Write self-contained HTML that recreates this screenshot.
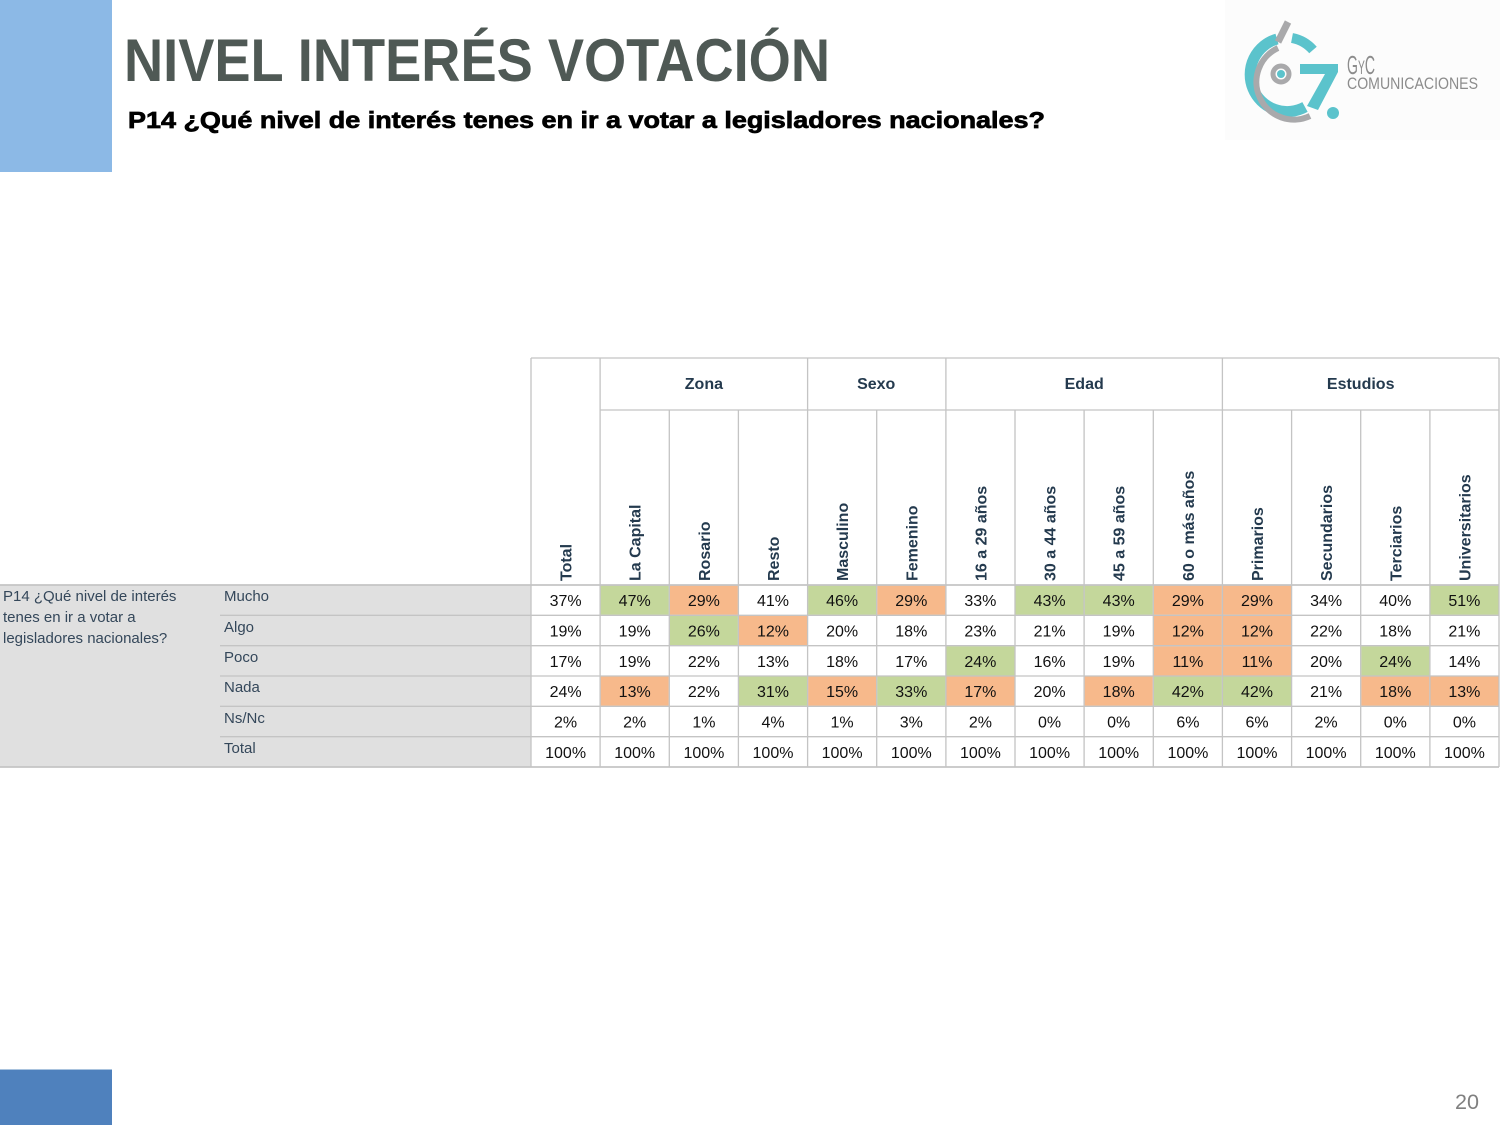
<!DOCTYPE html>
<html><head><meta charset="utf-8"><style>
html,body{margin:0;padding:0;background:#fff;}
svg{display:block;}
.v{font-family:"Liberation Sans",Arial,sans-serif;font-size:16px;fill:#111;text-anchor:middle;}
.h{font-family:"Liberation Sans",Arial,sans-serif;font-size:16px;font-weight:bold;fill:#243a4e;}
.rl{font-family:"Liberation Sans",Arial,sans-serif;font-size:15px;fill:#34475a;}
.G{fill:#c4d79b;}
.O{fill:#f7b98b;}
</style></head><body>
<svg width="1500" height="1125" viewBox="0 0 1500 1125" xmlns="http://www.w3.org/2000/svg">
<!-- decorative blocks -->
<rect x="0" y="0" width="112" height="172" fill="#8cb9e6"/>
<rect x="0" y="1069" width="112" height="1" fill="#a9c3de"/>
<rect x="0" y="1070" width="112" height="55" fill="#4f81bd"/>

<!-- titles -->
<text x="124" y="81" font-family="Liberation Sans, Arial, sans-serif" font-weight="bold" font-size="60" fill="#4f5955" textLength="706" lengthAdjust="spacingAndGlyphs">NIVEL INTERÉS VOTACIÓN</text>
<text x="128" y="128" font-family="Liberation Sans, Arial, sans-serif" font-weight="bold" font-size="23" fill="#000" stroke="#000" stroke-width="0.7" textLength="917" lengthAdjust="spacingAndGlyphs">P14 ¿Qué nivel de interés tenes en ir a votar a legisladores nacionales?</text>

<!-- logo -->
<rect x="1225" y="0" width="275" height="140" fill="#fcfcfc"/>
<path d="M1277,39 A37,37 0 1 0 1305,107" fill="none" stroke="#5bc3cc" stroke-width="11"/>
<path d="M1292,38 A37,37 0 0 1 1313,50" fill="none" stroke="#5bc3cc" stroke-width="10"/>
<path d="M1288,22 L1278,42" fill="none" stroke="#a9a9ab" stroke-width="7"/>
<path d="M1278,48 A28,28 0 1 0 1310,116" fill="none" stroke="#a9a9ab" stroke-width="6"/>
<circle cx="1281" cy="74" r="8" fill="none" stroke="#a9a9ab" stroke-width="5"/>
<circle cx="1281" cy="74" r="4" fill="#5bc3cc"/>
<polygon points="1300,64 1338,64 1338,72 1318,110 1307,106 1325,74 1300,74" fill="#5bc3cc"/>
<circle cx="1333" cy="113" r="6" fill="#5bc3cc"/>
<text x="1347" y="74" font-family="Liberation Sans, Arial, sans-serif" font-size="26" fill="#8c8c8c" textLength="28" lengthAdjust="spacingAndGlyphs">G<tspan font-size="19">Y</tspan>C</text>
<text x="1347" y="89" font-family="Liberation Sans, Arial, sans-serif" font-size="17" fill="#8c8c8c" textLength="131" lengthAdjust="spacingAndGlyphs">COMUNICACIONES</text>

<!-- page number -->
<text x="1455" y="1109" font-family="Liberation Sans, Arial, sans-serif" font-size="21" fill="#808080" textLength="24" lengthAdjust="spacingAndGlyphs">20</text>

<!-- label region -->
<rect x="0" y="585" width="531" height="182" fill="#e0e0e0"/>

<!-- colored cells -->
<g>
<rect class="G" x="600.6" y="585.5" width="68.2" height="29.3"/>
<rect class="O" x="669.8" y="585.5" width="68.1" height="29.3"/>
<rect class="G" x="808.1" y="585.5" width="68.1" height="29.3"/>
<rect class="O" x="877.2" y="585.5" width="68.2" height="29.3"/>
<rect class="G" x="1015.5" y="585.5" width="68.1" height="29.3"/>
<rect class="G" x="1084.6" y="585.5" width="68.2" height="29.3"/>
<rect class="O" x="1153.8" y="585.5" width="68.1" height="29.3"/>
<rect class="O" x="1222.9" y="585.5" width="68.2" height="29.3"/>
<rect class="G" x="1430.4" y="585.5" width="68.1" height="29.3"/>
<rect class="G" x="669.8" y="615.8" width="68.1" height="29.4"/>
<rect class="O" x="738.9" y="615.8" width="68.2" height="29.4"/>
<rect class="O" x="1153.8" y="615.8" width="68.1" height="29.4"/>
<rect class="O" x="1222.9" y="615.8" width="68.2" height="29.4"/>
<rect class="G" x="946.4" y="646.2" width="68.1" height="29.3"/>
<rect class="O" x="1153.8" y="646.2" width="68.1" height="29.3"/>
<rect class="O" x="1222.9" y="646.2" width="68.2" height="29.3"/>
<rect class="G" x="1361.2" y="646.2" width="68.2" height="29.3"/>
<rect class="O" x="600.6" y="676.5" width="68.2" height="29.3"/>
<rect class="G" x="738.9" y="676.5" width="68.2" height="29.3"/>
<rect class="O" x="808.1" y="676.5" width="68.1" height="29.3"/>
<rect class="G" x="877.2" y="676.5" width="68.2" height="29.3"/>
<rect class="O" x="946.4" y="676.5" width="68.1" height="29.3"/>
<rect class="O" x="1084.6" y="676.5" width="68.2" height="29.3"/>
<rect class="G" x="1153.8" y="676.5" width="68.1" height="29.3"/>
<rect class="G" x="1222.9" y="676.5" width="68.2" height="29.3"/>
<rect class="O" x="1361.2" y="676.5" width="68.2" height="29.3"/>
<rect class="O" x="1430.4" y="676.5" width="68.1" height="29.3"/>
</g>

<!-- grid lines -->
<g stroke="#c4c4c4" stroke-width="1.3" fill="none">
<line x1="531" y1="358" x2="1499" y2="358"/>
<line x1="600.1" y1="410" x2="1499" y2="410"/>
<line x1="0" y1="585" x2="1499" y2="585" stroke-width="1.8"/>
<line x1="220" y1="615.3" x2="1499" y2="615.3"/>
<line x1="220" y1="645.7" x2="1499" y2="645.7"/>
<line x1="220" y1="676" x2="1499" y2="676"/>
<line x1="220" y1="706.3" x2="1499" y2="706.3"/>
<line x1="220" y1="736.7" x2="1499" y2="736.7"/>
<line x1="0" y1="767" x2="1499" y2="767" stroke-width="1.8"/>
<line x1="531" y1="358" x2="531" y2="767"/>
<line x1="600.1" y1="358" x2="600.1" y2="767"/>
<line x1="807.6" y1="358" x2="807.6" y2="767"/>
<line x1="945.9" y1="358" x2="945.9" y2="767"/>
<line x1="1222.4" y1="358" x2="1222.4" y2="767"/>
<line x1="1499" y1="358" x2="1499" y2="767"/>
<line x1="669.3" y1="410" x2="669.3" y2="767"/>
<line x1="738.4" y1="410" x2="738.4" y2="767"/>
<line x1="876.7" y1="410" x2="876.7" y2="767"/>
<line x1="1015" y1="410" x2="1015" y2="767"/>
<line x1="1084.1" y1="410" x2="1084.1" y2="767"/>
<line x1="1153.3" y1="410" x2="1153.3" y2="767"/>
<line x1="1291.6" y1="410" x2="1291.6" y2="767"/>
<line x1="1360.7" y1="410" x2="1360.7" y2="767"/>
<line x1="1429.9" y1="410" x2="1429.9" y2="767"/>
</g>

<!-- group headers -->
<text class="h" x="703.9" y="389" text-anchor="middle">Zona</text>
<text class="h" x="876.2" y="389" text-anchor="middle">Sexo</text>
<text class="h" x="1084.2" y="389" text-anchor="middle">Edad</text>
<text class="h" x="1360.7" y="389" text-anchor="middle">Estudios</text>

<!-- rotated column headers -->
<text class="h" transform="translate(571.6,581) rotate(-90)">Total</text>
<text class="h" transform="translate(640.7,581) rotate(-90)">La Capital</text>
<text class="h" transform="translate(709.9,581) rotate(-90)">Rosario</text>
<text class="h" transform="translate(779,581) rotate(-90)">Resto</text>
<text class="h" transform="translate(848.1,581) rotate(-90)">Masculino</text>
<text class="h" transform="translate(917.3,581) rotate(-90)">Femenino</text>
<text class="h" transform="translate(986.4,581) rotate(-90)">16 a 29 años</text>
<text class="h" transform="translate(1055.6,581) rotate(-90)">30 a 44 años</text>
<text class="h" transform="translate(1124.7,581) rotate(-90)">45 a 59 años</text>
<text class="h" transform="translate(1193.9,581) rotate(-90)">60 o más años</text>
<text class="h" transform="translate(1263,581) rotate(-90)">Primarios</text>
<text class="h" transform="translate(1332.1,581) rotate(-90)">Secundarios</text>
<text class="h" transform="translate(1401.3,581) rotate(-90)">Terciarios</text>
<text class="h" transform="translate(1470.4,581) rotate(-90)">Universitarios</text>

<!-- row labels -->
<text class="rl" x="3" y="601">P14 ¿Qué nivel de interés</text>
<text class="rl" x="3" y="622">tenes en ir a votar a</text>
<text class="rl" x="3" y="643">legisladores nacionales?</text>
<text class="rl" x="224" y="601">Mucho</text>
<text class="rl" x="224" y="632">Algo</text>
<text class="rl" x="224" y="662">Poco</text>
<text class="rl" x="224" y="692">Nada</text>
<text class="rl" x="224" y="723">Ns/Nc</text>
<text class="rl" x="224" y="753">Total</text>

<!-- values -->
<g class="v">
<text x="565.6" y="606">37%</text><text x="634.7" y="606">47%</text><text x="703.9" y="606">29%</text><text x="773" y="606">41%</text><text x="842.1" y="606">46%</text><text x="911.3" y="606">29%</text><text x="980.4" y="606">33%</text><text x="1049.6" y="606">43%</text><text x="1118.7" y="606">43%</text><text x="1187.9" y="606">29%</text><text x="1257" y="606">29%</text><text x="1326.1" y="606">34%</text><text x="1395.3" y="606">40%</text><text x="1464.4" y="606">51%</text>
</g>
<g class="v">
<text x="565.6" y="636.5">19%</text><text x="634.7" y="636.5">19%</text><text x="703.9" y="636.5">26%</text><text x="773" y="636.5">12%</text><text x="842.1" y="636.5">20%</text><text x="911.3" y="636.5">18%</text><text x="980.4" y="636.5">23%</text><text x="1049.6" y="636.5">21%</text><text x="1118.7" y="636.5">19%</text><text x="1187.9" y="636.5">12%</text><text x="1257" y="636.5">12%</text><text x="1326.1" y="636.5">22%</text><text x="1395.3" y="636.5">18%</text><text x="1464.4" y="636.5">21%</text>
</g>
<g class="v">
<text x="565.6" y="667">17%</text><text x="634.7" y="667">19%</text><text x="703.9" y="667">22%</text><text x="773" y="667">13%</text><text x="842.1" y="667">18%</text><text x="911.3" y="667">17%</text><text x="980.4" y="667">24%</text><text x="1049.6" y="667">16%</text><text x="1118.7" y="667">19%</text><text x="1187.9" y="667">11%</text><text x="1257" y="667">11%</text><text x="1326.1" y="667">20%</text><text x="1395.3" y="667">24%</text><text x="1464.4" y="667">14%</text>
</g>
<g class="v">
<text x="565.6" y="697">24%</text><text x="634.7" y="697">13%</text><text x="703.9" y="697">22%</text><text x="773" y="697">31%</text><text x="842.1" y="697">15%</text><text x="911.3" y="697">33%</text><text x="980.4" y="697">17%</text><text x="1049.6" y="697">20%</text><text x="1118.7" y="697">18%</text><text x="1187.9" y="697">42%</text><text x="1257" y="697">42%</text><text x="1326.1" y="697">21%</text><text x="1395.3" y="697">18%</text><text x="1464.4" y="697">13%</text>
</g>
<g class="v">
<text x="565.6" y="727.5">2%</text><text x="634.7" y="727.5">2%</text><text x="703.9" y="727.5">1%</text><text x="773" y="727.5">4%</text><text x="842.1" y="727.5">1%</text><text x="911.3" y="727.5">3%</text><text x="980.4" y="727.5">2%</text><text x="1049.6" y="727.5">0%</text><text x="1118.7" y="727.5">0%</text><text x="1187.9" y="727.5">6%</text><text x="1257" y="727.5">6%</text><text x="1326.1" y="727.5">2%</text><text x="1395.3" y="727.5">0%</text><text x="1464.4" y="727.5">0%</text>
</g>
<g class="v">
<text x="565.6" y="758">100%</text><text x="634.7" y="758">100%</text><text x="703.9" y="758">100%</text><text x="773" y="758">100%</text><text x="842.1" y="758">100%</text><text x="911.3" y="758">100%</text><text x="980.4" y="758">100%</text><text x="1049.6" y="758">100%</text><text x="1118.7" y="758">100%</text><text x="1187.9" y="758">100%</text><text x="1257" y="758">100%</text><text x="1326.1" y="758">100%</text><text x="1395.3" y="758">100%</text><text x="1464.4" y="758">100%</text>
</g>
</svg>
</body></html>
